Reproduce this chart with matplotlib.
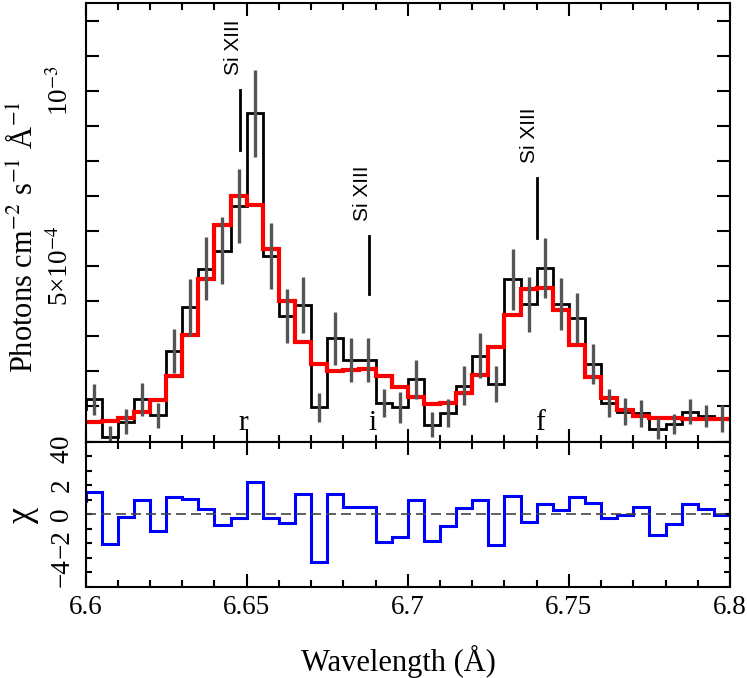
import numpy as np
import matplotlib
matplotlib.use('Agg')
import matplotlib.pyplot as plt
from matplotlib.ticker import MultipleLocator, FixedLocator, FormatStrFormatter

plt.rcParams['font.family'] = ['Liberation Serif', 'DejaVu Serif']
plt.rcParams['mathtext.fontset'] = 'stix'

# bin centres in Angstrom (one extra bin each side, clipped by the axes)
wave = np.round(np.arange(6.5975, 6.806, 0.005), 4)

# observed flux, units of 1e-4 photons cm^-2 s^-1 A^-1
flux = np.array([0.94, 1.20, 0.13, 0.56, 1.20, 0.75, 2.58, 3.82, 4.93, 5.44, 6.71,
                 9.36, 5.29, 3.57, 3.88, 0.97, 2.94, 2.32, 2.32, 1.10, 0.97,
                 1.77, 0.48, 0.82, 1.59, 2.45, 1.64, 4.62, 3.91, 4.95, 3.91,
                 3.53, 2.22, 1.11, 0.85, 0.80, 0.37, 0.49, 0.85, 0.72, 0.66, 1.10]) * 1e-4
flux_err = np.array([0.42, 0.45, 0.30, 0.36, 0.48, 0.36, 0.63, 0.80, 0.90, 0.96, 1.05,
                     1.24, 0.95, 0.77, 0.80, 0.40, 0.76, 0.62, 0.62, 0.40, 0.43,
                     0.55, 0.36, 0.40, 0.55, 0.65, 0.52, 0.86, 0.78, 0.86, 0.74,
                     0.71, 0.57, 0.40, 0.38, 0.38, 0.29, 0.29, 0.36, 0.31, 0.38, 0.40]) * 1e-4
# best-fit model
model = np.array([0.56, 0.56, 0.58, 0.66, 0.83, 1.18, 1.86, 3.03, 4.63, 6.17, 7.00,
                  6.74, 5.50, 4.01, 2.84, 2.20, 2.01, 2.05, 2.07, 1.87, 1.56,
                  1.27, 1.08, 1.10, 1.37, 1.90, 2.70, 3.62, 4.34, 4.39, 3.76,
                  2.75, 1.84, 1.23, 0.89, 0.73, 0.68, 0.66, 0.64, 0.63, 0.63, 0.63]) * 1e-4
# residuals (chi)
resid = np.array([0.90, 1.52, -2.05, -0.16, 0.95, -1.18, 1.20, 1.07, 0.39, -0.75, -0.27,
                  2.20, -0.23, -0.57, 1.41, -3.25, 1.41, 0.50, 0.50, -1.89, -1.57,
                  0.98, -1.86, -0.80, 0.41, 0.95, -2.09, 1.25, -0.52, 0.73, 0.27,
                  1.18, 0.75, -0.27, -0.03, 0.50, -1.41, -0.64, 0.73, 0.39, -0.05, 1.36])

# Si XIII line identifications
line_wave = [6.648, 6.688, 6.740]
line_lo = [8.31e-4, 4.20e-4, 5.80e-4]
line_hi = [10.02e-4, 5.85e-4, 7.51e-4]
line_name = ['Si XIII', 'Si XIII', 'Si XIII']
line_tag = ['r', 'i', 'f']

edges = np.append(wave - 0.0025, wave[-1] + 0.0025)

fig = plt.figure(figsize=(7.47, 6.78), dpi=100)
ax1 = fig.add_axes([0.1145, 0.3488, 0.8628, 0.6468])
ax2 = fig.add_axes([0.1145, 0.1342, 0.8628, 0.2146], sharex=ax1)

# top panel: spectrum + model
ax1.stairs(flux, edges, color='black', lw=2, baseline=None)
ax1.errorbar(wave, flux, yerr=flux_err, fmt='none', ecolor='#555555', elinewidth=2.4, capsize=0)
ax1.stairs(model, edges, color='red', lw=3, baseline=None)

for w, lo, hi, name, tag in zip(line_wave, line_lo, line_hi, line_name, line_tag):
    ax1.plot([w, w], [lo, hi], color='black', lw=2)
    ax1.text(w - 0.0022, hi + 0.43e-4, name, rotation=90, ha='center', va='bottom',
             fontsize=15, family=['Liberation Sans', 'DejaVu Sans'])
    ax1.text(w + 0.001, 0.32e-4, tag, ha='center', va='baseline', fontsize=21)

ax1.set_xlim(6.6, 6.8)
ax1.set_ylim(0, 1.25e-3)
ax1.yaxis.set_major_locator(FixedLocator([0, 5e-4, 1e-3]))
ax1.yaxis.set_minor_locator(MultipleLocator(1e-4))
ax1.set_yticklabels(['0', '5×10$^{-4}$', '10$^{-3}$'], rotation=90, va='center')
ax1.set_ylabel('Photons cm$^{-2}$ s$^{-1}$ Å$^{-1}$', fontsize=22)
ax1.yaxis.set_label_coords(-0.072, 0.466)

# bottom panel: residuals
ax2.stairs(resid, edges, color='blue', lw=2.2, baseline=None)
ax2.axhline(0, color='#444444', lw=1.2, ls=(0, (6, 3)))
ax2.set_ylim(-5, 5)
ax2.yaxis.set_major_locator(FixedLocator([-4, -2, 0, 2, 4]))
ax2.yaxis.set_minor_locator(MultipleLocator(1))
ax2.set_yticklabels(['−4', '−2', '0', '2', '4'], rotation=90, va='center')
ax2.set_ylabel('χ', fontsize=26)
ax2.yaxis.set_label_coords(-0.072, 0.495)
ax2.set_xlabel('Wavelength (Å)', fontsize=22)
ax2.xaxis.set_label_coords(0.485, -0.40)

for ax in (ax1, ax2):
    ax.xaxis.set_major_locator(MultipleLocator(0.05))
    ax.xaxis.set_minor_locator(MultipleLocator(0.01))
    ax.xaxis.set_major_formatter(FormatStrFormatter('%g'))
    ax.tick_params(which='both', direction='in', top=True, right=True, width=1.5,
                   labelsize=19.5)
    ax.tick_params(axis='x', which='major', length=9.5, pad=6)
    ax.tick_params(axis='x', which='minor', length=5)
    for s in ax.spines.values():
        s.set_linewidth(1.5)

ax1.tick_params(axis='y', which='both', length=9.5, pad=8)
ax2.tick_params(axis='y', which='both', length=4.5, pad=8)
ax1.tick_params(labelbottom=False)

fig.savefig('out.png', dpi=100)
